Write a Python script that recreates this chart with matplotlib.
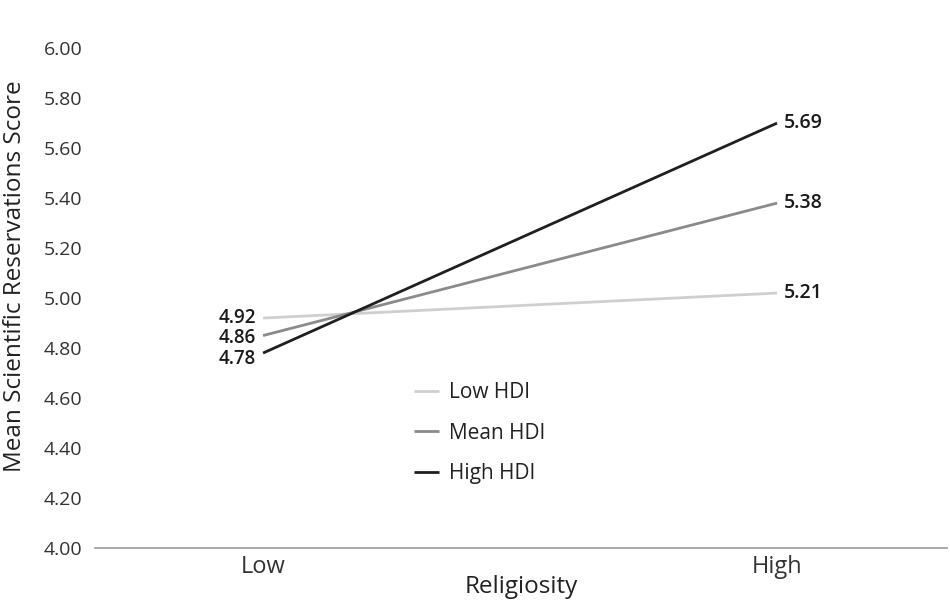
import matplotlib
matplotlib.use("Agg")
import matplotlib.pyplot as plt

plt.rcParams['font.family'] = ['Open Sans', 'DejaVu Sans']

# data
categories = ['Low', 'High']
series = ['Low HDI', 'Mean HDI', 'High HDI']
low_hdi = [4.92, 5.02]
mean_hdi = [4.85, 5.38]
high_hdi = [4.78, 5.70]
# printed value labels (as shown in the original)
low_hdi_labels = ['4.92', '5.21']
mean_hdi_labels = ['4.86', '5.38']
high_hdi_labels = ['4.78', '5.69']
yticks = [4.0, 4.2, 4.4, 4.6, 4.8, 5.0, 5.2, 5.4, 5.6, 5.8, 6.0]

colors = ['#cfcfcf', '#8a8a8a', '#1f1f1f']
text_col = '#333333'
# small vertical nudges (points) so the stacked left labels don't collide
left_nudge = [1.5, 0, -2.2]

fig = plt.figure(figsize=(9.5, 6.03), dpi=100)
ax = fig.add_axes([0.1, 0.0912, 0.897, 0.829])

x = list(range(len(categories)))
values = [low_hdi, mean_hdi, high_hdi]
labels = [low_hdi_labels, mean_hdi_labels, high_hdi_labels]
for name, vals, labs, c, dy in zip(series, values, labels, colors, left_nudge):
    ax.plot(x, vals, color=c, lw=2.0, label=name, solid_capstyle='butt')
    ax.annotate(labs[0], (x[0], vals[0]), xytext=(-5, dy), textcoords='offset points',
                ha='right', va='center_baseline', fontsize=13.5, color='#1a1a1a',
                fontweight='semibold')
    ax.annotate(labs[1], (x[1], vals[1]), xytext=(5, 0), textcoords='offset points',
                ha='left', va='center', fontsize=14, color='#1a1a1a',
                fontweight='semibold')

ax.set_xlim(-0.327, 1.331)
ax.set_ylim(4.0, 6.0)
ax.set_yticks(yticks)
ax.set_yticklabels(['%.2f' % t for t in yticks])
ax.set_xticks(x)
ax.set_xticklabels(categories)
ax.tick_params(axis='y', length=0, labelsize=14, labelcolor=text_col, pad=9)
ax.tick_params(axis='x', length=0, labelsize=17, labelcolor=text_col, pad=5)

for s in ['top', 'right', 'left']:
    ax.spines[s].set_visible(False)
ax.spines['bottom'].set_color('#9a9a9a')
ax.spines['bottom'].set_linewidth(1.2)

ax.set_xlabel('Religiosity', fontsize=17.5, color='#222222', fontweight='medium', labelpad=-3)
ax.set_ylabel('Mean Scientific Reservations Score', fontsize=17.5, color='#222222',
              fontweight='medium')
ax.yaxis.set_label_coords(-0.08, 0.544)

ax.legend(loc='upper left', bbox_to_anchor=(0.352, 0.37), frameon=False,
          fontsize=15, handlelength=1.2, labelspacing=0.95, handletextpad=0.5,
          labelcolor='#222222')

fig.savefig('out.png', dpi=100)
